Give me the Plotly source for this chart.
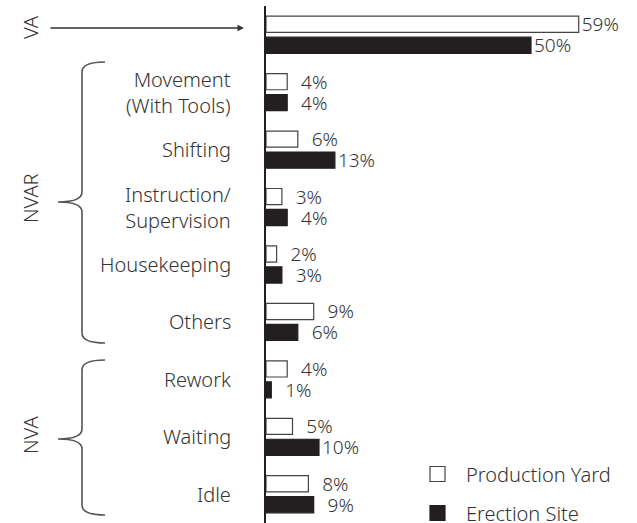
import plotly.graph_objects as go

# Activity categories, top to bottom
categories = ["va", "movement", "shifting", "instruction", "housekeeping",
              "others", "rework", "waiting", "idle"]
category_labels = ["", "Movement<br>(With Tools)", "Shifting",
                   "Instruction/<br>Supervision", "Housekeeping", "Others",
                   "Rework", "Waiting", "Idle"]

# Share of time (%) per activity
production_yard = [59, 4, 6, 3, 2, 9, 4, 5, 8]
erection_site = [50, 4, 13, 4, 3, 6, 1, 10, 9]

series_names = ["Production Yard", "Erection Site"]

W, H = 637, 523
ML, MR, MT, MB = 266, 0, 6, 0
PW, PH = W - ML - MR, H - MT - MB
INK = "#231f20"
TXT = "#333333"
EDGE = "#444444"
FONT = "'Noto Sans', Lato, sans-serif"
FW = 300


def px(x):
    return (x - ML) / PW


def py(y):
    return 1 - (y - MT) / PH


def pct_labels(values):
    # pad single digits with a figure space so labels line up as two digits
    return [("\u2007" if v < 10 else "") + f"{v}%" for v in values]


def font(size=20):
    return dict(size=size, color=TXT, family=FONT, weight=FW)


fills = ["white", INK]
edges = [EDGE, INK]

fig = go.Figure()
for name, vals, fc, ec in zip(series_names, [production_yard, erection_site],
                              fills, edges):
    fig.add_trace(go.Bar(
        name=name, y=categories, x=vals, orientation="h",
        marker=dict(color=fc, line=dict(color=ec, width=1.2)),
        text=pct_labels(vals), textposition="outside",
        cliponaxis=False, constraintext="none", textfont=font(19),
        showlegend=False,
    ))

annotations = []
for cat, lab in zip(categories, category_labels):
    if not lab:
        continue
    annotations.append(dict(
        x=0, xref="paper", y=cat, yref="y", text=lab, showarrow=False,
        xanchor="right", align="right", xshift=-33, font=font(),
    ))

# Group labels
for txt, yy in [("VA", 27), ("NVAR", 198), ("NVA", 435)]:
    annotations.append(dict(
        x=px(30), xref="paper", y=py(yy), yref="paper", text=txt,
        showarrow=False, textangle=-90, xanchor="center", yanchor="middle",
        font=font(),
    ))

# Arrow pointing at the VA bars
annotations.append(dict(
    x=px(244), xref="paper", y=py(28), yref="paper", text="",
    showarrow=True, ax=-195, ay=0, arrowhead=2, arrowsize=1,
    arrowwidth=1.3, arrowcolor=TXT, standoff=0,
))


def brace(top, tip, bottom, xv=82, xh=105, xt=58, r=10):
    return (
        f"M {px(xh)},{py(top)} "
        f"Q {px(xv)},{py(top)} {px(xv)},{py(top + r)} "
        f"L {px(xv)},{py(tip - r)} "
        f"Q {px(xv)},{py(tip)} {px(xt)},{py(tip)} "
        f"Q {px(xv)},{py(tip)} {px(xv)},{py(tip + r)} "
        f"L {px(xv)},{py(bottom - r)} "
        f"Q {px(xv)},{py(bottom)} {px(xh)},{py(bottom)}"
    )


shapes = [
    dict(type="path", xref="paper", yref="paper",
         path=brace(62, 202, 343), line=dict(color="#555555", width=1.6)),
    dict(type="path", xref="paper", yref="paper",
         path=brace(360, 439, 515), line=dict(color="#555555", width=1.6)),
]

# Key: square swatch plus series name
for name, fc, ec, yc in zip(series_names, fills, edges, [474, 513]):
    shapes.append(dict(
        type="rect", xref="paper", yref="paper",
        x0=px(430), x1=px(445), y0=py(yc - 7.5), y1=py(yc + 7.5),
        fillcolor=fc, line=dict(color=ec, width=1.2),
    ))
    annotations.append(dict(
        x=px(464), xref="paper", y=py(yc), yref="paper", text=name,
        showarrow=False, xanchor="left", yanchor="middle", font=font(),
    ))

fig.update_layout(
    width=W, height=H,
    margin=dict(l=ML, r=MR, t=MT, b=MB),
    paper_bgcolor="white", plot_bgcolor="white",
    barmode="group", bargap=0.27, bargroupgap=0.23,
    showlegend=False,
    font=font(),
    xaxis=dict(range=[0, 70], visible=False, showgrid=False, zeroline=False),
    yaxis=dict(categoryorder="array", categoryarray=categories,
               autorange="reversed", showticklabels=False, ticks="",
               showgrid=False, zeroline=False, showline=True,
               linecolor=INK, linewidth=1.5),
    annotations=annotations, shapes=shapes,
)

fig.write_html("out.html")
